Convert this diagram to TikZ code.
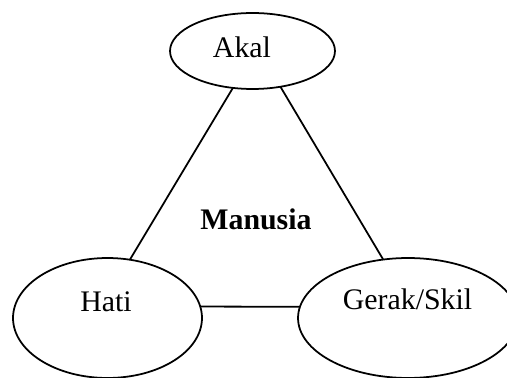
\documentclass[tikz,border=0pt]{standalone}
\usepackage{fontspec}
\setmainfont{Liberation Serif}
\usetikzlibrary{shapes}

\begin{document}
\begin{tikzpicture}[x=0.02cm, y=-0.02cm, line width=1pt,
    bubble/.style={ellipse, draw, inner sep=0, outer sep=0},
    word/.style={font=\fontsize{17}{20}\selectfont}]
      \clip (0,0) rectangle (507,378);

      \node [bubble, minimum width=3.3cm, minimum height=1.52cm,
        label={[word, xshift=-0.21cm, yshift=0.084cm]center:Akal}] (akal) at (252.5,51) {};
      \node [bubble, minimum width=3.78cm, minimum height=2.4cm,
        label={[word, xshift=-0.03cm, yshift=0.32cm]center:Hati}] (hati) at (107.5,318) {};
      \node [bubble, minimum width=4.4cm, minimum height=2.4cm,
        label={[word, xshift=-0.01cm, yshift=0.384cm]center:Gerak/Skil}] (gerak) at (408,318) {};

      \node [word, anchor=base, font=\fontsize{17}{20}\selectfont\bfseries] (manusia) at (256,230) {Manusia};

      \draw (akal.242)--(hati.69);
      \draw (akal.308)--(gerak.113);
      \draw (hati.7)--(gerak.174);
    \end{tikzpicture}
\end{document}
